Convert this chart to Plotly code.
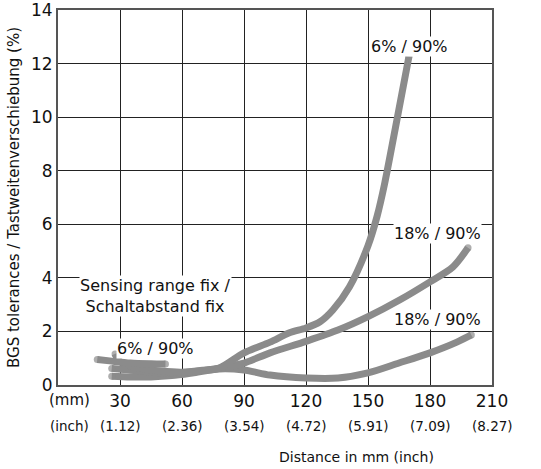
import plotly.graph_objects as go

# ---- data ----
a_mm = [27.6, 29, 32, 40, 50, 60, 70, 78, 90, 102.6, 112, 120, 126.8, 133, 141, 150, 154.4, 158, 164, 169.8]
a_val = [1.16, 0.95, 0.78, 0.62, 0.52, 0.48, 0.55, 0.63, 1.2, 1.6, 1.95, 2.13, 2.36, 2.8, 3.66, 5.2, 6.3, 7.5, 9.9, 12.26]

b_mm = [26, 35, 45, 55, 65, 78, 90, 102.6, 120, 135.5, 150, 165.5, 180, 191, 198.4]
b_val = [0.62, 0.55, 0.48, 0.44, 0.5, 0.63, 0.82, 1.2, 1.63, 2.05, 2.55, 3.18, 3.85, 4.4, 5.12]

c_mm = [26, 35, 45, 55, 65, 78, 90, 102.6, 120, 135.5, 150, 165, 180, 193, 200]
c_val = [0.33, 0.3, 0.3, 0.35, 0.45, 0.6, 0.56, 0.37, 0.26, 0.26, 0.45, 0.82, 1.2, 1.6, 1.87]

s_mm = [19, 25, 35, 45, 52]
s_val = [0.95, 0.9, 0.82, 0.79, 0.78]

mm_ticks = [30, 60, 90, 120, 150, 180, 210]
inch_labels = ["(1.12)", "(2.36)", "(3.54)", "(4.72)", "(5.91)", "(7.09)", "(8.27)"]
y_ticks = [0, 2, 4, 6, 8, 10, 12, 14]

labels = [
    ("6% / 90%", 170, 12.62),
    ("18% / 90%", 183.6, 5.64),
    ("18% / 90%", 183.6, 2.46),
    ("6% / 90%", 47, 1.38),
]

FONT = "DejaVu Sans"
GRAY = "#8b8b8b"

fig = go.Figure()
for xs, ys in [(c_mm, c_val), (b_mm, b_val), (a_mm, a_val), (s_mm, s_val)]:
    sizes = [0] * len(xs)
    sizes[0] = 7
    sizes[-1] = 7
    fig.add_trace(go.Scatter(
        x=xs, y=ys, mode="lines+markers",
        line=dict(color=GRAY, width=7, shape="spline", smoothing=0.8),
        marker=dict(color=GRAY, size=sizes, line=dict(width=0)),
        showlegend=False, hoverinfo="skip", cliponaxis=False,
    ))

for txt, x, y in labels:
    fig.add_annotation(x=x, y=y, xref="x", yref="y", text=txt, showarrow=False,
                       font=dict(family=FONT, size=16, color="#111"),
                       bgcolor="white", borderpad=0)

fig.add_annotation(x=47, y=3.33, xref="x", yref="y",
                   text="Sensing range fix /<br>Schaltabstand fix", showarrow=False,
                   font=dict(family=FONT, size=16, color="#111"), bgcolor="white",
                   borderpad=0)

for v, t in zip(mm_ticks, inch_labels):
    fig.add_annotation(x=v, y=-0.109, xref="x", yref="paper", text=t, showarrow=False,
                       font=dict(family=FONT, size=13.5, color="#111"), yanchor="middle")
fig.add_annotation(x=5.8, y=-0.04, xref="x", yref="paper", text="(mm)", showarrow=False,
                   font=dict(family=FONT, size=15, color="#111"), yanchor="middle")
fig.add_annotation(x=5.8, y=-0.109, xref="x", yref="paper", text="(inch)", showarrow=False,
                   font=dict(family=FONT, size=13.5, color="#111"), yanchor="middle")
fig.add_annotation(x=0.872, y=-0.192, xref="paper", yref="paper", text="Distance in mm (inch)",
                   showarrow=False, font=dict(family=FONT, size=14, color="#111"),
                   yanchor="middle")

fig.update_layout(
    width=541, height=469,
    margin=dict(l=58, r=49, t=10, b=84, autoexpand=False),
    plot_bgcolor="white", paper_bgcolor="white",
    font=dict(family=FONT, color="#111"),
    xaxis=dict(range=[0, 210], tickvals=mm_ticks, ticktext=[str(v) for v in mm_ticks],
               tickfont=dict(size=17), showgrid=True, gridcolor="#222", gridwidth=1,
               showline=True, linecolor="#555", linewidth=2, mirror=True,
               zeroline=False, ticks="", automargin=False, ticklabeloverflow="allow"),
    yaxis=dict(range=[0, 14], tickvals=y_ticks, tickfont=dict(size=17),
               showgrid=True, gridcolor="#222", gridwidth=1,
               showline=True, linecolor="#555", linewidth=2, mirror=True,
               zeroline=False, ticks="", automargin=False, ticklabeloverflow="allow",
               title=dict(text="BGS tolerances / Tastweitenverschiebung (%)",
                          font=dict(size=15), standoff=8)),
)

# remove the default 8px page margin so the figure sits at the window's corner
fig.write_html("out.html", config={"displayModeBar": False},
               post_script="document.body.style.margin='0';")
